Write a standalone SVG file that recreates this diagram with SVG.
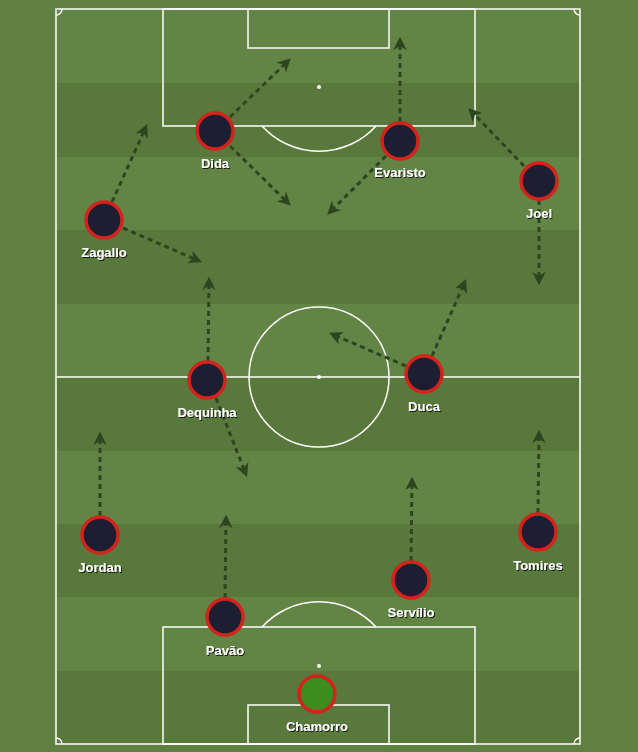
<svg xmlns="http://www.w3.org/2000/svg" width="638" height="752" viewBox="0 0 638 752">
<defs>
<style>
.line{fill:none;stroke:#ffffff;stroke-width:1.5}
.mv{fill:none;stroke:#2c4620;stroke-width:3;stroke-dasharray:5 4;marker-end:url(#ah)}
.pl{fill:#1e1e32;stroke:#d2231c;stroke-width:3.5}
.gk{fill:#3c8c1e;stroke:#d2231c;stroke-width:3.5}
.lbl{font-family:"Liberation Sans",Arial,sans-serif;font-weight:bold;font-size:13px;fill:#ffffff;text-anchor:middle;filter:url(#sh)}
</style>
<marker id="ah" viewBox="0 0 10 10" refX="6" refY="5" markerWidth="4.5" markerHeight="4.5" orient="auto" markerUnits="strokeWidth">
<path d="M0,0 L10,5 L0,10 L3,5 z" fill="#2c4620"/>
</marker>
<filter id="sh" x="-20%" y="-40%" width="140%" height="180%">
<feDropShadow dx="1" dy="1" stdDeviation="0.6" flood-color="#000" flood-opacity="0.8"/>
</filter>
</defs>
<rect width="638" height="752" fill="#5f8041"/>
<g id="stripes">
<rect x="56" y="9" width="524" height="74" fill="#628445"/>
<rect x="56" y="83" width="524" height="74" fill="#58793b"/>
<rect x="56" y="157" width="524" height="73" fill="#628445"/>
<rect x="56" y="230" width="524" height="74" fill="#58793b"/>
<rect x="56" y="304" width="524" height="73" fill="#628445"/>
<rect x="56" y="377" width="524" height="74" fill="#58793b"/>
<rect x="56" y="451" width="524" height="73" fill="#628445"/>
<rect x="56" y="524" width="524" height="73" fill="#58793b"/>
<rect x="56" y="597" width="524" height="74" fill="#628445"/>
<rect x="56" y="671" width="524" height="73" fill="#58793b"/>
</g>
<g id="pitch">
<rect class="line" x="56" y="9" width="524" height="735"/>
<line class="line" x1="56" y1="377" x2="580" y2="377"/>
<circle class="line" cx="319" cy="377" r="70"/>
<circle cx="319" cy="377" r="2" fill="#fff"/>
<rect class="line" x="163" y="9" width="312" height="117"/>
<rect class="line" x="248" y="9" width="141" height="39"/>
<circle cx="319" cy="87" r="2" fill="#fff"/>
<path class="line" d="M262,126 A77,77 0 0 0 376,126"/>
<rect class="line" x="163" y="627" width="312" height="117"/>
<rect class="line" x="248" y="705" width="141" height="39"/>
<circle cx="319" cy="666" r="2" fill="#fff"/>
<path class="line" d="M262,627 A77,77 0 0 1 376,627"/>
<path class="line" d="M56,15 A6,6 0 0 0 62,9"/>
<path class="line" d="M574,9 A6,6 0 0 0 580,15"/>
<path class="line" d="M56,738 A6,6 0 0 1 62,744"/>
<path class="line" d="M574,744 A6,6 0 0 1 580,738"/>
</g>
<g id="connectors">
<line class="mv" x1="230" y1="117" x2="287" y2="62"/>
<line class="mv" x1="230" y1="146" x2="287" y2="202"/>
<line class="mv" x1="400" y1="122" x2="400" y2="42"/>
<line class="mv" x1="386" y1="156" x2="331" y2="211"/>
<line class="mv" x1="524" y1="166" x2="472" y2="112"/>
<line class="mv" x1="539" y1="200" x2="539" y2="280"/>
<line class="mv" x1="112" y1="202" x2="145" y2="129"/>
<line class="mv" x1="123" y1="228" x2="197" y2="260"/>
<line class="mv" x1="208" y1="361" x2="209" y2="282"/>
<line class="mv" x1="216" y1="398" x2="245" y2="472"/>
<line class="mv" x1="406" y1="366" x2="334" y2="335"/>
<line class="mv" x1="432" y1="356" x2="464" y2="284"/>
<line class="mv" x1="100" y1="516" x2="100" y2="437"/>
<line class="mv" x1="225" y1="598" x2="226" y2="520"/>
<line class="mv" x1="411" y1="561" x2="412" y2="482"/>
<line class="mv" x1="538" y1="513" x2="539" y2="435"/>
</g>
<g id="dida"><circle class="pl" cx="215" cy="131" r="18"/><text class="lbl" x="215" y="168">Dida</text></g>
<g id="evaristo"><circle class="pl" cx="400" cy="141" r="18"/><text class="lbl" x="400" y="177">Evaristo</text></g>
<g id="joel"><circle class="pl" cx="539" cy="181" r="18"/><text class="lbl" x="539" y="218">Joel</text></g>
<g id="zagallo"><circle class="pl" cx="104" cy="220" r="18"/><text class="lbl" x="104" y="257">Zagallo</text></g>
<g id="dequinha"><circle class="pl" cx="207" cy="380" r="18"/><text class="lbl" x="207" y="417">Dequinha</text></g>
<g id="duca"><circle class="pl" cx="424" cy="374" r="18"/><text class="lbl" x="424" y="411">Duca</text></g>
<g id="jordan"><circle class="pl" cx="100" cy="535" r="18"/><text class="lbl" x="100" y="572">Jordan</text></g>
<g id="tomires"><circle class="pl" cx="538" cy="532" r="18"/><text class="lbl" x="538" y="570">Tomires</text></g>
<g id="servilio"><circle class="pl" cx="411" cy="580" r="18"/><text class="lbl" x="411" y="617">Servílio</text></g>
<g id="pavao"><circle class="pl" cx="225" cy="617" r="18"/><text class="lbl" x="225" y="655">Pavão</text></g>
<g id="chamorro"><circle class="gk" cx="317" cy="694" r="18"/><text class="lbl" x="317" y="731">Chamorro</text></g>
</svg>
